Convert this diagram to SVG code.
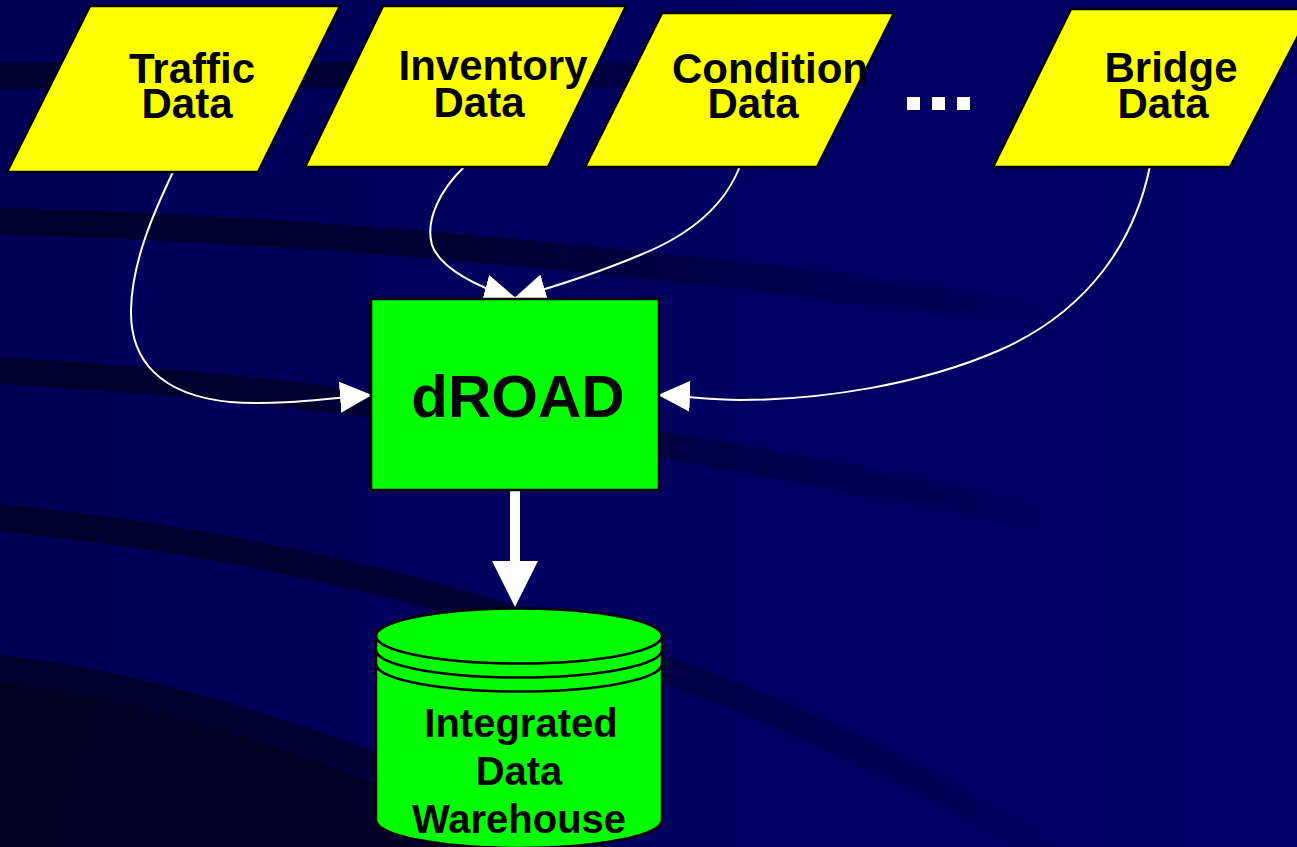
<svg xmlns="http://www.w3.org/2000/svg" width="1297" height="847" viewBox="0 0 1297 847">
<style>
.lbl{font-family:"Liberation Sans",Arial,sans-serif;font-weight:bold;fill:#000;text-anchor:middle}
.src{fill:#ffff00;stroke:#000;stroke-width:2.5;stroke-linejoin:miter}
.grn{fill:#00ff00;stroke:#000;stroke-width:2.5}
.wire{fill:none;stroke:#fff;stroke-width:2}
.stripe{fill:none;stroke:url(#fade);stroke-width:27}
</style>
<defs>
<linearGradient id="bg" x1="0" y1="0" x2="1297" y2="0" gradientUnits="userSpaceOnUse">
<stop offset="0" stop-color="#000058"/><stop offset="1" stop-color="#000066"/>
</linearGradient>
<linearGradient id="fade" x1="0" y1="0" x2="1100" y2="0" gradientUnits="userSpaceOnUse">
<stop offset="0" stop-color="#00002c" stop-opacity="1"/>
<stop offset="0.45" stop-color="#00002c" stop-opacity="0.85"/>
<stop offset="0.7" stop-color="#00002c" stop-opacity="0.35"/>
<stop offset="1" stop-color="#00002c" stop-opacity="0"/>
</linearGradient>
<linearGradient id="fade1" x1="0" y1="0" x2="880" y2="0" gradientUnits="userSpaceOnUse">
<stop offset="0" stop-color="#00002c" stop-opacity="1"/>
<stop offset="0.6" stop-color="#00002c" stop-opacity="0.7"/>
<stop offset="1" stop-color="#00002c" stop-opacity="0"/>
</linearGradient>
<linearGradient id="dark" x1="0" y1="680" x2="500" y2="847" gradientUnits="userSpaceOnUse">
<stop offset="0" stop-color="#00001e"/><stop offset="1" stop-color="#000028"/>
</linearGradient>
<marker id="ah" viewBox="0 0 32 31" refX="31" refY="15.5" markerWidth="32" markerHeight="31" markerUnits="userSpaceOnUse" orient="auto">
<path d="M0,0 L32,15.5 L0,31 Z" fill="#fff"/>
</marker>
</defs>
<g id="background">
<rect x="0" y="0" width="1297" height="847" fill="url(#bg)"/>
<path fill="none" stroke="url(#fade1)" stroke-width="26" d="M-10,76 C300,74 600,74 880,78"/>
<path class="stripe" d="M-10,221 C300,228 700,262 1150,330"/>
<path class="stripe" d="M-10,370 C250,385 600,420 1100,530"/>
<path class="stripe" d="M-10,517 C300,545 700,640 1063,860"/>
<path class="stripe" d="M-10,667 C200,690 400,770 650,880"/>
<path d="M-10,681 C200,704 395,784 640,895 L-10,895 Z" fill="url(#dark)"/>
</g>
<g id="connectors">
<path class="wire" marker-end="url(#ah)" d="M173,172 C155,210 132,260 131,310 C130,360 160,395 230,402 C280,406 330,398 371,395"/>
<path class="wire" marker-end="url(#ah)" d="M465,166 C440,190 425,220 432,245 C440,268 478,288 515,298"/>
<path class="wire" marker-end="url(#ah)" d="M740,166 C725,205 690,235 640,255 C600,272 560,285 515,298"/>
<path class="wire" marker-end="url(#ah)" d="M1150,166 C1135,240 1090,310 1000,350 C920,385 820,400 740,400 C710,400 685,396 659,395"/>
<g id="down-arrow" fill="#fff">
<rect x="510" y="490" width="10" height="72"/>
<polygon points="492,561 538,561 515,607"/>
</g>
</g>
<g id="traffic">
<polygon class="src" points="90,6 340,6 258,172 7,172"/>
<text class="lbl" font-size="42" x="192" y="83">Traffic</text>
<text class="lbl" font-size="42" x="187" y="118">Data</text>
</g>
<g id="inventory">
<polygon class="src" points="383,6 626,6 548,167 305,167"/>
<text class="lbl" font-size="42" x="493" y="80">Inventory</text>
<text class="lbl" font-size="42" x="479" y="117">Data</text>
</g>
<g id="condition">
<polygon class="src" points="662,13 894,13 817,167 585,167"/>
<text class="lbl" font-size="42" x="770" y="83">Condition</text>
<text class="lbl" font-size="42" x="753" y="118">Data</text>
</g>
<g id="ellipsis" fill="#fff">
<rect x="907" y="97" width="13" height="13"/>
<rect x="932" y="97" width="13" height="13"/>
<rect x="957" y="97" width="13" height="13"/>
</g>
<g id="bridge">
<polygon class="src" points="1071,9 1312,9 1230,167 993,167"/>
<text class="lbl" font-size="42" x="1171" y="82">Bridge</text>
<text class="lbl" font-size="42" x="1163" y="118">Data</text>
</g>
<g id="droad">
<rect class="grn" x="371" y="299" width="288" height="191"/>
<text class="lbl" font-size="60" x="518" y="417">dROAD</text>
</g>
<g id="warehouse">
<path class="grn" d="M376,636 L376,820 A143,28 0 0 0 662,820 L662,636 Z"/>
<ellipse class="grn" cx="519" cy="636" rx="143" ry="27.5"/>
<path fill="none" stroke="#000" stroke-width="2.5" d="M376,650 A143,27.5 0 0 0 662,650"/>
<path fill="none" stroke="#000" stroke-width="2.5" d="M376,664 A143,27.5 0 0 0 662,664"/>
<text class="lbl" font-size="40" x="521" y="737">Integrated</text>
<text class="lbl" font-size="40" x="519" y="785">Data</text>
<text class="lbl" font-size="40" x="519" y="833">Warehouse</text>
</g>
</svg>
